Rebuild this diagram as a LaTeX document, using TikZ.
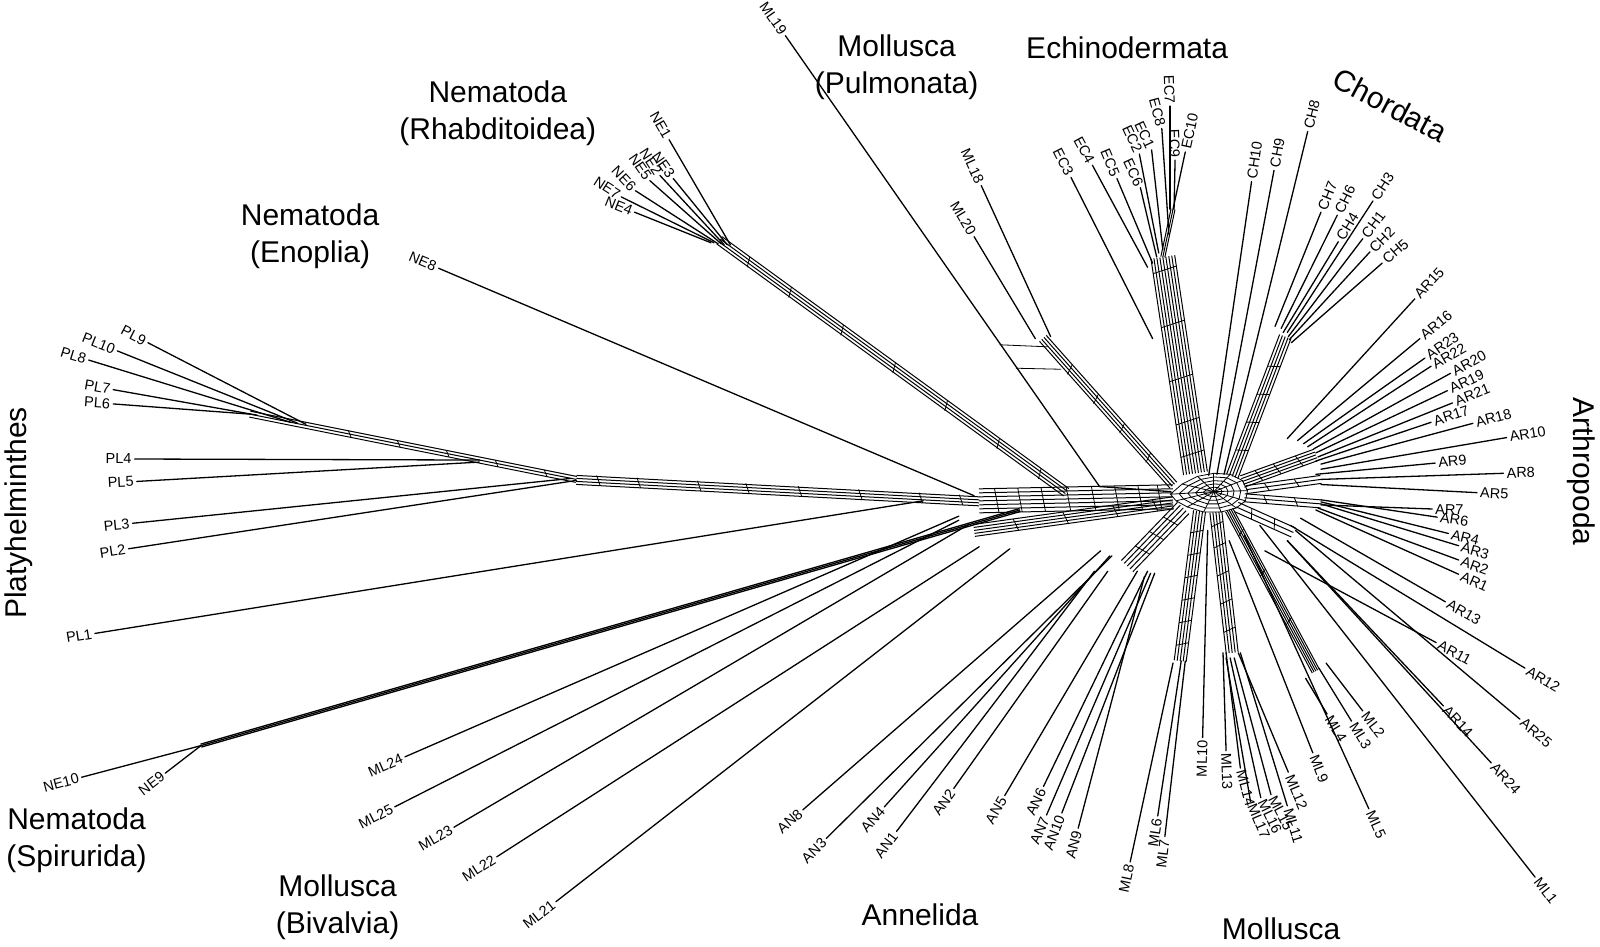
\documentclass[tikz,border=0pt]{standalone}
\usepackage{fontspec}
\setmainfont{Liberation Sans}
\usetikzlibrary{calc}
\tikzset{
 edge/.style={line width=1.3pt, line cap=round},
 bl/.style={line width=1pt},
 rg/.style={line width=0.8pt},
 lbl/.style={font=\fontsize{14.5}{16}\selectfont, inner sep=2.5pt},
 grp/.style={font=\fontsize{30}{37}\selectfont, align=center, inner sep=0pt},
}
\newcommand\leafR[4]{\coordinate (#1) at (#2); \coordinate (#1i) at (#3);
  \draw[edge] (#1i) -- (#1) node[lbl, pos=1, sloped, anchor=west] (#1l) {#4};}
\newcommand\leafL[4]{\coordinate (#1) at (#2); \coordinate (#1i) at (#3);
  \draw[edge] (#1i) -- (#1) node[lbl, pos=1, sloped, anchor=east] (#1l) {#4};}
\newcommand\leafX[6]{\coordinate (#1) at (#2); \coordinate (#1i) at (#3);
  \draw[edge] (#1i) -- (#1); \node[lbl, rotate=#5, anchor=#6] (#1l) at (#1) {#4};}
\newcommand\band[3]{\foreach \k in {#3}{\draw[bl] ($(#1)!\k!90:(#2)$) -- ($(#2)!\k!-90:(#1)$);}}
\newcommand\rungs[4]{\foreach \t in {#3}{\path ($(#1)!\t!(#2)$) coordinate (rp); \path ($(rp)!4pt!(#2)$) coordinate (rq);
  \draw[rg] ($(rp)!#4!90:(#2)$) -- ($(rq)!-#4!90:(#2)$);}}
\begin{document}
\begin{tikzpicture}[x=1.02pt,y=-1.02pt]
\useasboundingbox (0,0) rectangle (1568.6,927.5);

% ---------- hub ----------
\coordinate (hc) at (1190,482);
\begin{scope}[shift={(hc)}]
 \foreach \s in {0.5,0.4,0.3,0.21,0.12}{
  \draw[rg,scale=\s] (-85,5) -- (-62,-15) -- (-32,-30) -- (0,-36) -- (32,-34) -- (56,-22) -- (66,-2) -- (62,18) -- (44,32) -- (14,40) -- (-20,40) -- (-52,30) -- (-74,18) -- cycle;}
 \foreach \p in {(-85,5),(-62,-15),(-32,-30),(0,-36),(32,-34),(56,-22),(66,-2),(62,18),(44,32),(14,40),(-20,40),(-52,30),(-74,18)}{
  \draw[rg,scale=0.5] \p -- (0,0);}
\end{scope}

% ---------- band coordinates ----------
\coordinate (t1) at (565,470);  \coordinate (t2) at (960,491);  \coordinate (hl) at (1150,487);
\coordinate (pla) at (245,406);
\coordinate (nes) at (705,236); \coordinate (nee) at (1045,483);
\coordinate (nsp) at (197,731); \coordinate (nspe) at (1000,500);
\coordinate (mdb) at (955,520); \coordinate (mde) at (1150,493);
\coordinate (m18s) at (1022,332); \coordinate (m18e) at (1150,476);
\coordinate (m19e) at (1078,477); \coordinate (m19f) at (1148,482);
\coordinate (eca) at (1150,205); \coordinate (ect) at (1140,252); \coordinate (ecb) at (1172,464);
\coordinate (chj) at (1260,330); \coordinate (chb) at (1208,467);
\coordinate (ar1s) at (1290,446); \coordinate (ar1e) at (1218,472);
\coordinate (ar2s) at (1295,470); \coordinate (ar2e) at (1222,480);
\coordinate (ar3s) at (1295,494); \coordinate (ar3e) at (1220,488);
\coordinate (ar4s) at (1268,522); \coordinate (ar4e) at (1212,497);
\coordinate (mlas) at (1290,658); \coordinate (mlae) at (1205,500);
\coordinate (mlbs) at (1208,640); \coordinate (mlbe) at (1192,502);
\coordinate (mlcs) at (1157,648); \coordinate (mlce) at (1176,501);
\coordinate (ans) at (1105,555); \coordinate (ane) at (1160,498);
\coordinate (ra1) at (980,338); \coordinate (rb1) at (1027,340);
\coordinate (ra2) at (996,361); \coordinate (rb2) at (1040,362);

% ---------- bands ----------
\band{pla}{t1}{-3pt,0pt,3pt}
\rungs{pla}{t1}{0.3,0.45,0.6,0.75,0.9}{3pt}
\band{t1}{t2}{-5pt,-2pt,1pt,4pt}
\rungs{t1}{t2}{0.05,0.15,0.3,0.42,0.55,0.7,0.85,0.95}{5pt}
\band{t2}{hl}{-12pt,-8pt,-4pt,0pt,4pt,8pt,12pt}
\rungs{t2}{hl}{0.08,0.2,0.32,0.45,0.58,0.7,0.82,0.92}{12pt}
\band{nes}{nee}{-4pt,-1pt,2pt,5pt}
\rungs{nes}{nee}{0.08,0.2,0.35,0.5,0.65,0.8,0.92}{5pt}
\begin{scope}[bl/.append style={line width=1.3pt}]
\band{nsp}{nspe}{-1.5pt,0pt,1.5pt}
\end{scope}
\band{mdb}{mde}{-6pt,-3pt,0pt,3pt,6pt}
\rungs{mdb}{mde}{0.2,0.45,0.7,0.9}{6pt}
\band{m18s}{m18e}{-4pt,-1pt,2pt,5pt}
\rungs{m18s}{m18e}{0.2,0.4,0.6,0.8}{5pt}
\draw[edge] (m19e) -- (m19f);
\draw[rg] (ra1) -- (rb1);
\draw[rg] (ra2) -- (rb2);
\band{eca}{ect}{-2pt,0pt,2pt}
\band{ect}{ecb}{-12pt,-9pt,-6pt,-3pt,0pt,3pt,6pt,9pt,12pt}
\rungs{ect}{ecb}{0.05,0.3,0.55,0.75,0.9}{12pt}
\band{chj}{chb}{-6pt,-3pt,0pt,3pt,6pt}
\rungs{chj}{chb}{0.2,0.4,0.6,0.8}{6pt}
\band{ar1s}{ar1e}{-6pt,-3pt,0pt,3pt,6pt}
\rungs{ar1s}{ar1e}{0.2,0.5,0.75}{6pt}
\band{ar2s}{ar2e}{-4pt,0pt,4pt}
\rungs{ar2s}{ar2e}{0.3,0.7}{4pt}
\band{ar3s}{ar3e}{-4pt,0pt,4pt}
\rungs{ar3s}{ar3e}{0.3,0.7}{4pt}
\band{ar4s}{ar4e}{-5pt,0pt,5pt}
\rungs{ar4s}{ar4e}{0.3,0.7}{5pt}
\band{mlas}{mlae}{-4pt,-2pt,0pt,2pt,4pt}
\rungs{mlas}{mlae}{0.3,0.6,0.85}{4pt}
\band{mlbs}{mlbe}{-6pt,-3pt,0pt,3pt,6pt}
\rungs{mlbs}{mlbe}{0.15,0.35,0.55,0.75,0.9}{6pt}
\band{mlcs}{mlce}{-6pt,-3pt,0pt,3pt,6pt}
\rungs{mlcs}{mlce}{0.1,0.25,0.4,0.55,0.7,0.85}{6pt}
\band{ans}{ane}{-8pt,-4pt,0pt,4pt,8pt}
\rungs{ans}{ane}{0.25,0.5,0.75}{8pt}

% ---------- leaves ----------
% Platyhelminthes
\leafL{pl9}{145,336}{300,416}{PL9}
\leafL{pl10}{115,344}{292,415}{PL10}
\leafL{pl8}{87,353}{285,414}{PL8}
\leafL{pl7}{111,382}{252,407}{PL7}
\leafL{pl6}{111,396}{245,406}{PL6}
\leafL{pl4}{132,450}{470,451}{PL4}
\leafL{pl5}{134,472}{470,453}{PL5}
\leafL{pl3}{130,513}{560,469}{PL3}
\leafL{pl2}{126,538}{565,471}{PL2}
\leafL{pl1}{93,621}{905,491}{PL1}
% Nematoda
\leafX{ne1}{656,137}{716,240}{NE1}{-60}{east}
\leafX{ne3}{660,175}{713,240}{NE3}{-55}{east}
\leafX{ne2}{647,172}{710,240}{NE2}{-57}{east}
\leafX{ne5}{637,177}{707,239}{NE5}{-55}{east}
\leafX{ne6}{623,187}{704,239}{NE6}{-47}{east}
\leafX{ne7}{609,193}{700,238}{NE7}{-33}{east}
\leafX{ne4}{622,208}{697,238}{NE4}{-22}{east}
\leafL{ne8}{430,263}{955,486}{NE8}
\leafL{ne10}{80,762}{197,731}{NE10}
\leafL{ne9}{162,758}{197,731}{NE9}
% Mollusca Pulmonata
\leafL{ml19}{770,35}{1078,477}{ML19}
\leafL{ml18}{962,182}{1030,330}{ML18}
\leafL{ml20}{955,232}{1015,332}{ML20}
% Echinodermata
\leafL{ec3}{1050,174}{1130,332}{EC3}
\leafL{ec4}{1071,162}{1125,262}{EC4}
\leafL{ec5}{1095,175}{1130,258}{EC5}
\leafX{ec6}{1118,184}{1134,252}{EC6}{-65}{east}
\leafX{ec2}{1117,151}{1136,248}{EC2}{-65}{east}
\leafX{ec1}{1129,147}{1140,245}{EC1}{-65}{east}
\leafX{ec8}{1139,126}{1146,230}{EC8}{-75}{east}
\leafX{ec7}{1147,104}{1147,205}{EC7}{-88}{east}
\leafX{ec9}{1152,157}{1151,205}{EC9}{-88}{east}
\leafR{ec10}{1162,149}{1150,205}{EC10}
% Chordata
\leafR{ch10}{1227,178}{1185,466}{CH10}
\leafR{ch9}{1249,167}{1193,465}{CH9}
\leafR{ch8}{1282,129}{1200,465}{CH8}
\leafR{ch7}{1295,208}{1250,320}{CH7}
\leafR{ch6}{1311,211}{1256,322}{CH6}
\leafR{ch4}{1312,237}{1258,326}{CH4}
\leafR{ch3}{1346,197}{1262,326}{CH3}
\leafR{ch1}{1336,234}{1263,330}{CH1}
\leafX{ch2}{1343,247}{1264,333}{CH2}{45}{west}
\leafR{ch5}{1355,258}{1266,336}{CH5}
% Arthropoda
\leafR{ar15}{1387,293}{1262,430}{AR15}
\leafR{ar16}{1392,332}{1272,432}{AR16}
\leafR{ar23}{1397,351}{1278,435}{AR23}
\leafX{ar22}{1403,359}{1282,438}{AR22}{30}{west}
\leafR{ar20}{1422,366}{1288,440}{AR20}
\leafR{ar19}{1419,383}{1290,444}{AR19}
\leafR{ar21}{1424,395}{1292,448}{AR21}
\leafR{ar17}{1403,414}{1290,452}{AR17}
\leafR{ar18}{1444,415}{1295,455}{AR18}
\leafR{ar10}{1477,429}{1295,460}{AR10}
\leafR{ar9}{1407,454}{1290,465}{AR9}
\leafR{ar8}{1474,464}{1295,470}{AR8}
\leafR{ar5}{1448,483}{1295,475}{AR5}
\leafR{ar7}{1404,499}{1295,495}{AR7}
\leafR{ar6}{1409,507}{1295,490}{AR6}
\leafR{ar4}{1420,523}{1295,492}{AR4}
\leafR{ar3}{1430,535}{1295,494}{AR3}
\leafR{ar2}{1430,549}{1292,498}{AR2}
\leafR{ar1}{1430,563}{1290,500}{AR1}
\leafR{ar13}{1417,590}{1275,508}{AR13}
\leafR{ar11}{1408,630}{1240,540}{AR11}
\leafR{ar12}{1495,655}{1265,515}{AR12}
\leafR{ar14}{1415,692}{1262,530}{AR14}
\leafR{ar25}{1490,705}{1270,520}{AR25}
\leafR{ar24}{1462,748}{1262,530}{AR24}
\leafR{ml1}{1505,860}{1235,515}{ML1}
% Mollusca
\leafR{ml2}{1336,697}{1300,650}{ML2}
\leafR{ml3}{1325,707}{1293,655}{ML3}
\leafR{ml4}{1301,700}{1280,665}{ML4}
\leafR{ml9}{1287,738}{1205,530}{ML9}
\leafR{ml5}{1342,793}{1220,525}{ML5}
\leafR{ml12}{1263,757}{1214,640}{ML12}
\leafR{ml11}{1262,790}{1216,640}{ML11}
\leafX{ml15}{1246,779}{1210,645}{ML15}{-62}{west}
\leafX{ml16}{1236,782}{1206,645}{ML16}{-64}{west}
\leafX{ml17}{1226,786}{1202,645}{ML17}{-67}{west}
\leafX{ml14}{1216,753}{1202,640}{ML14}{-75}{west}
\leafX{ml13}{1202,736}{1199,640}{ML13}{-88}{west}
\leafL{ml10}{1179,723}{1184,520}{ML10}
\leafL{ml6}{1135,800}{1158,648}{ML6}
\leafL{ml7}{1142,820}{1162,648}{ML7}
\leafL{ml8}{1108,845}{1150,650}{ML8}
% Annelida
\leafL{an8}{787,794}{1079,540}{AN8}
\leafL{an3}{810,822}{1090,545}{AN3}
\leafL{an4}{867,791}{1088,545}{AN4}
\leafL{an1}{879,815}{1073,560}{AN1}
\leafL{an2}{935,773}{1086,560}{AN2}
\leafL{an5}{985,780}{1115,560}{AN5}
\leafL{an6}{1023,771}{1125,560}{AN6}
\leafL{an7}{1026,799}{1128,562}{AN7}
\leafL{an10}{1041,797}{1132,562}{AN10}
\leafL{an9}{1057,812}{1122,565}{AN9}
% Mollusca Bivalvia
\leafL{ml24}{397,742}{940,506}{ML24}
\leafL{ml25}{387,791}{940,510}{ML25}
\leafL{ml23}{445,811}{950,514}{ML23}
\leafL{ml22}{487,840}{960,536}{ML22}
\leafL{ml21}{545,884}{990,538}{ML21}

% ---------- group labels ----------
\node[grp] (gpul) at (879,66) {Mollusca\\(Pulmonata)};
\node[grp] (gech) at (1105,47) {Echinodermata};
\node[grp, rotate=-28] (gcho) at (1363,103) {Chordata};
\node[grp, rotate=-90] (gart) at (1550,462) {Arthropoda};
\node[grp, rotate=90] (gpla) at (18,503) {Platyhelminthes};
\node[grp] (grha) at (488,111) {Nematoda\\(Rhabditoidea)};
\node[grp] (geno) at (304,232) {Nematoda\\(Enoplia)};
\node[grp] (gspi) at (75,824) {Nematoda\\(Spirurida)};
\node[grp] (gbiv) at (331,889) {Mollusca\\(Bivalvia)};
\node[grp] (gann) at (902,897) {Annelida};
\node[grp] (gmol) at (1256,911) {Mollusca};
\end{tikzpicture}
\end{document}
